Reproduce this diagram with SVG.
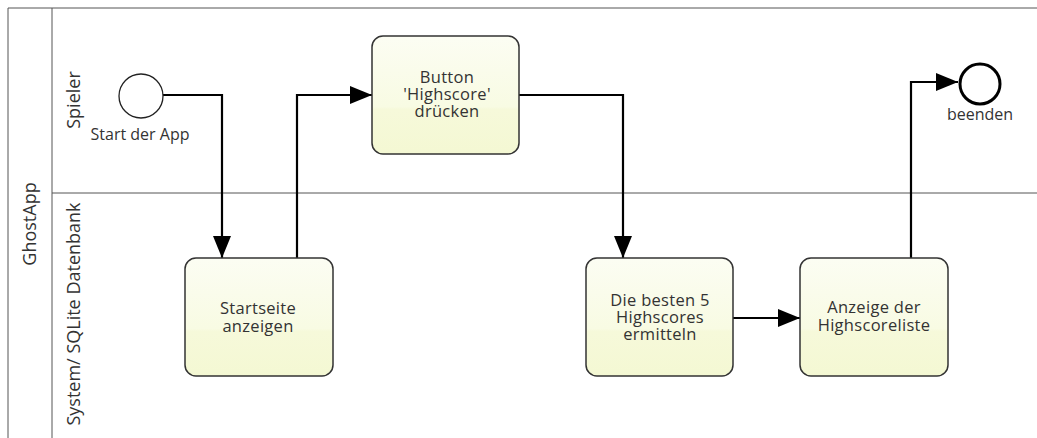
<svg xmlns="http://www.w3.org/2000/svg" width="1037" height="438" viewBox="0 0 1037 438">
  <defs>
    <linearGradient id="taskFill" x1="0" y1="0" x2="0" y2="1">
      <stop offset="0" stop-color="#fcfdf3"/>
      <stop offset="0.6" stop-color="#f8fbe3"/>
      <stop offset="0.62" stop-color="#f6f9da"/>
      <stop offset="1" stop-color="#f4f8d3"/>
    </linearGradient>
    <marker id="arrow" viewBox="0 0 22 18" refX="22" refY="9" markerWidth="22" markerHeight="18" markerUnits="userSpaceOnUse" orient="auto">
      <path d="M0,0 L22,9 L0,18 Z" fill="#000"/>
    </marker>
  </defs>
  <style>
    text { font-family: "Open Sans", "Noto Sans", "DejaVu Sans", sans-serif; font-size: 16px; fill: #333; }
    .lanelabel { font-size: 18px; }
    .task text { font-size: 16.5px; letter-spacing: 0.3px; }
    .task rect { fill: url(#taskFill); stroke: #333; stroke-width: 1.5; }
    .flow { fill: none; stroke: #000; stroke-width: 2.2; marker-end: url(#arrow); }
    .lane { stroke: #555; stroke-width: 1; fill: none; }
  </style>

  <rect width="1037" height="438" fill="#fff"/>

  <!-- pool and lanes -->
  <g id="pool">
    <path class="lane" d="M1037,8 H8 V438" stroke-width="1.5"/>
    <line class="lane" x1="52" y1="8" x2="52" y2="438"/>
    <line class="lane" x1="52" y1="193" x2="1037" y2="193"/>
    <text class="lanelabel" transform="translate(36,224) rotate(-90)" text-anchor="middle">GhostApp</text>
    <text class="lanelabel" transform="translate(80,100) rotate(-90)" text-anchor="middle">Spieler</text>
    <text class="lanelabel" transform="translate(80,314) rotate(-90)" text-anchor="middle">System/ SQLite Datenbank</text>
  </g>

  <!-- connectors -->
  <g id="connectors">
    <path class="flow" d="M163,95 H222 V258"/>
    <path class="flow" d="M297,258 V95 H372"/>
    <path class="flow" d="M519,95 H623 V258"/>
    <path class="flow" d="M733,318 H800"/>
    <path class="flow" d="M911,258 V82 H958"/>
  </g>

  <g id="start">
    <circle cx="141" cy="96" r="22" fill="#fff" stroke="#222" stroke-width="1.3"/>
    <text x="140" y="140" text-anchor="middle">Start der App</text>
  </g>

  <g id="end">
    <circle cx="980" cy="84" r="20" fill="#fff" stroke="#000" stroke-width="3"/>
    <text x="980" y="120" text-anchor="middle">beenden</text>
  </g>

  <g id="task-startseite" class="task">
    <rect x="185" y="258" width="148" height="118" rx="11"/>
    <text text-anchor="middle"><tspan x="258" y="314">Startseite</tspan><tspan x="258" dy="18">anzeigen</tspan></text>
  </g>

  <g id="task-button" class="task">
    <rect x="372" y="36" width="147" height="118" rx="11"/>
    <text text-anchor="middle"><tspan x="447" y="83">Button</tspan><tspan x="447" dy="17">'Highscore'</tspan><tspan x="447" dy="17">drücken</tspan></text>
  </g>

  <g id="task-ermitteln" class="task">
    <rect x="586" y="258" width="147" height="118" rx="11"/>
    <text text-anchor="middle"><tspan x="660" y="306">Die besten 5</tspan><tspan x="660" dy="17">Highscores</tspan><tspan x="660" dy="17">ermitteln</tspan></text>
  </g>

  <g id="task-anzeige" class="task">
    <rect x="800" y="258" width="148" height="118" rx="11"/>
    <text text-anchor="middle"><tspan x="874" y="313">Anzeige der</tspan><tspan x="874" dy="18">Highscoreliste</tspan></text>
  </g>
</svg>
